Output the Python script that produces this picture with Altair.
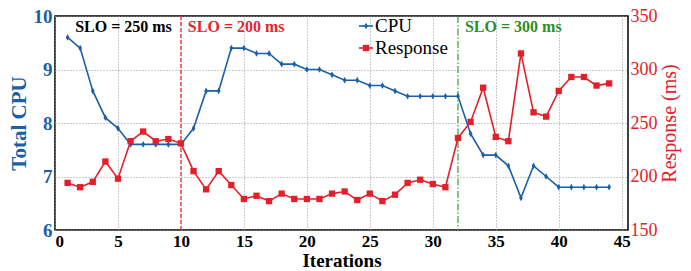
import altair as alt
import pandas as pd

iterations = list(range(1, 45))
cpu = [9.6, 9.4, 8.6, 8.1, 7.9, 7.6, 7.6, 7.6, 7.6, 7.6,
       7.9, 8.6, 8.6, 9.4, 9.4, 9.3, 9.3, 9.1, 9.1, 9.0,
       9.0, 8.9, 8.8, 8.8, 8.7, 8.7, 8.6, 8.5, 8.5, 8.5,
       8.5, 8.5, 7.8, 7.4, 7.4, 7.2, 6.6, 7.2, 7.0, 6.8,
       6.8, 6.8, 6.8, 6.8]
response = [194, 190, 195, 214, 198, 233, 242, 233, 235, 231,
            205, 188, 205, 192, 179, 182, 177, 184, 179, 179,
            179, 184, 186, 178, 184, 177, 183, 194, 197, 193,
            190, 236, 251, 283, 237, 233, 315, 260, 256, 280,
            293, 293, 285, 287]

slo_x = [10, 32]
slo_labels = ["SLO = 250 ms", "SLO = 200 ms", "SLO = 300 ms"]
slo_label_x = [1.6, 10.55, 32.55]
slo_colors = ["#000000", "#e8232d", "#2a8f2a"]

BLUE = "#1a5fa8"
RED = "#e3202a"
FONT = "Liberation Serif"

df = pd.DataFrame({"it": iterations, "cpu": cpu, "resp": response})

xscale = alt.Scale(domain=[0, 45.5], nice=False, zero=False)
xaxis = alt.Axis(values=list(range(0, 46, 5)), title="Iterations", grid=True,
                 gridDash=[1, 2], gridColor="#999999", ticks=False, domain=False,
                 labelFontSize=17, titleFontSize=19, labelPadding=3, titlePadding=2)

diamond = "M0,-1L0.55,0L0,1L-0.55,0Z"

base = alt.Chart(df)

cpu_line = base.mark_line(color=BLUE, strokeWidth=1.6).encode(
    x=alt.X("it:Q", scale=xscale, axis=xaxis),
    y=alt.Y("cpu:Q", scale=alt.Scale(domain=[6, 10], nice=False, zero=False),
            axis=alt.Axis(values=[6, 7, 8, 9, 10], format="d", title="Total CPU", orient="left",
                          labelColor=BLUE, titleColor=BLUE, grid=True, gridDash=[1, 2],
                          gridColor="#999999", ticks=False, domain=False,
                          labelFontSize=19, titleFontSize=21, labelPadding=3,
                          titlePadding=4)),
)
cpu_pts = base.mark_point(shape=diamond, filled=True, color=BLUE, size=45, opacity=1).encode(
    x=alt.X("it:Q", scale=xscale), y=alt.Y("cpu:Q"))

resp_line = base.mark_line(color=RED, strokeWidth=1.6).encode(
    x=alt.X("it:Q", scale=xscale),
    y=alt.Y("resp:Q", scale=alt.Scale(domain=[150, 350], nice=False, zero=False),
            axis=alt.Axis(values=[150, 200, 250, 300, 350], format="d", title="Response (ms)",
                          orient="right", labelColor=RED, titleColor=RED, grid=False,
                          ticks=False, domain=False, labelFontSize=18, titleFontSize=20,
                          labelFontWeight="normal", titleFontWeight="normal",
                          labelPadding=2, titleAngle=270, titleX=41, titleY=107,
                          titleAlign="center", titleBaseline="middle")),
)
resp_pts = base.mark_square(color=RED, size=40, opacity=1).encode(
    x=alt.X("it:Q", scale=xscale), y=alt.Y("resp:Q"))

rules_df = pd.DataFrame({"x": slo_x})
rule_red = alt.Chart(rules_df.iloc[[0]]).mark_rule(color=RED, strokeDash=[4, 2], strokeWidth=1.2).encode(
    x=alt.X("x:Q", scale=xscale))
rule_green = alt.Chart(rules_df.iloc[[1]]).mark_rule(color="#3a9a3a", strokeDash=[7, 2, 1.5, 2], strokeWidth=1.2).encode(
    x=alt.X("x:Q", scale=xscale))

lab_df = pd.DataFrame({"x": slo_label_x, "t": slo_labels, "c": slo_colors})
labels = alt.Chart(lab_df).mark_text(align="left", baseline="middle", fontSize=16,
                                     fontWeight="bold", font=FONT).encode(
    x=alt.X("x:Q", scale=xscale), y=alt.value(11), text="t:N",
    color=alt.Color("c:N", scale=None))

# legend
leg_df = pd.DataFrame({"name": ["CPU", "Response"], "y": [10, 32]})
leg_cpu_line = alt.Chart(leg_df.iloc[[0]]).mark_rule(color=BLUE, strokeWidth=1.6).encode(
    x=alt.value(304), x2=alt.value(318), y=alt.value(10))
leg_cpu_pt = alt.Chart(leg_df.iloc[[0]]).mark_point(shape=diamond, filled=True, color=BLUE, size=45, opacity=1).encode(
    x=alt.value(311), y=alt.value(10))
leg_resp_line = alt.Chart(leg_df.iloc[[1]]).mark_rule(color=RED, strokeWidth=1.6).encode(
    x=alt.value(304), x2=alt.value(318), y=alt.value(32))
leg_resp_pt = alt.Chart(leg_df.iloc[[1]]).mark_square(color=RED, size=40, opacity=1).encode(
    x=alt.value(311), y=alt.value(32))
leg_text = alt.Chart(leg_df).mark_text(align="left", baseline="middle", fontSize=19, font=FONT,
                                       color="#000000").encode(
    x=alt.value(320), y=alt.Y("y:Q", scale=None), text="name:N")

left = alt.layer(rule_red, rule_green, cpu_line, cpu_pts, labels,
                 leg_cpu_line, leg_cpu_pt, leg_resp_line, leg_resp_pt, leg_text)
right = alt.layer(resp_line, resp_pts)

chart = alt.layer(left, right).resolve_scale(y="independent").properties(
    width=573, height=214,
    padding={"left": 47, "top": 8, "right": 55, "bottom": 40},
    autosize=alt.AutoSizeParams(type="none"),
).configure_view(stroke="#000000", strokeWidth=1.5).configure_axis(
    labelFont=FONT, titleFont=FONT, labelFontWeight="bold", titleFontWeight="bold",
    labelColor="#000000", titleColor="#000000"
)

chart.save("out.html", embed_options={"renderer": "svg", "actions": False})
